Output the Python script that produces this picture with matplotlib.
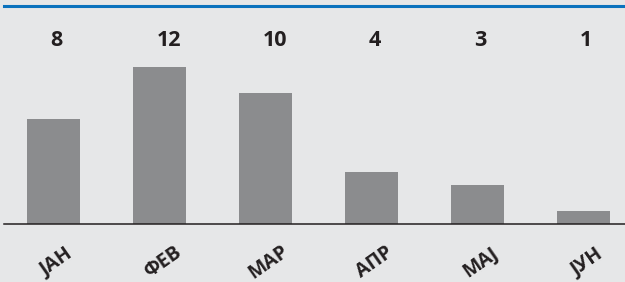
import matplotlib
matplotlib.use("Agg")
import matplotlib.pyplot as plt

# данни
months = ["ЈАН", "ФЕВ", "МАР", "АПР", "МАЈ", "ЈУН"]
values = [8, 12, 10, 4, 3, 1]

bg = "#e6e7e8"
bar_color = "#8b8c8e"
text_color = "#231f20"
blue = "#0b72bd"

W, H = 625, 282
fig = plt.figure(figsize=(W / 100, H / 100), dpi=100, facecolor=bg)
# оски: лево 4px, дно на 224px, врв на 6px
ax = fig.add_axes([4 / W, (H - 224) / H, 1 - 4 / W, (224 - 6) / H])
ax.set_facecolor(bg)

x = list(range(len(months)))
ax.bar(x, values, width=0.5, color=bar_color, zorder=2)

ax.set_xlim(-0.467, 5.392)
ax.set_ylim(0, 218 / 13.1)

for s in ["left", "right"]:
    ax.spines[s].set_visible(False)
ax.spines["top"].set_color(blue)
ax.spines["top"].set_linewidth(2.2)
ax.spines["bottom"].set_color(text_color)
ax.spines["bottom"].set_linewidth(1.1)
ax.set_xticks([])
ax.set_yticks([])

font = ["Open Sans", "DejaVu Sans"]

# вредности горе
for i, v in enumerate(values):
    ax.text(i - 0.03, 13.59, str(v), ha="left", va="baseline",
            fontsize=15.5, fontweight="bold", color=text_color, family=font)

# месеци, ротирани
for i, m in enumerate(months):
    ax.text(i + 0.03, -2.95, m, ha="center", va="center", rotation=35,
            rotation_mode="anchor", fontsize=14, fontweight="bold",
            color=text_color, family=font, clip_on=False)

fig.savefig("out.png", dpi=100, facecolor=bg)
